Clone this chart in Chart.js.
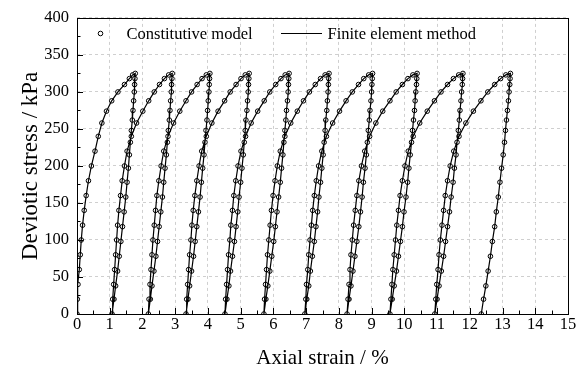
<!DOCTYPE html>
<html>
<head>
<meta charset="utf-8">
<script src="https://cdn.jsdelivr.net/npm/chart.js@4.4.1/dist/chart.umd.min.js"></script>
<style>
  html, body { margin: 0; padding: 0; background: #fff; }
  #chart { display: block; }
</style>
</head>
<body>
<canvas id="chart" width="582" height="373"></canvas>
<script>
// Stress levels (kPa) on each loading branch, from zero up to the peak
const loadStress = [0, 20, 40, 60, 80, 100, 120, 140, 160, 180, 200, 220, 240, 258, 274, 288, 300, 310, 318, 323, 325];
// Stress levels (kPa) on each unloading branch, from the peak down to zero
const unloadStress = [325, 318, 310, 300, 288, 275, 262, 248, 232, 215, 197, 178, 158, 138, 118, 98, 78, 58, 38, 20, 0];

// Axial strain (%) along the loading branch of cycles 1..10
const loadStrain = [
  [0.00, 0.01, 0.03, 0.07, 0.10, 0.13, 0.17, 0.22, 0.28, 0.35, 0.44, 0.55, 0.65, 0.76, 0.90, 1.06, 1.25, 1.45, 1.60, 1.70, 1.78],
  [1.07, 1.09, 1.12, 1.15, 1.18, 1.21, 1.24, 1.28, 1.33, 1.38, 1.45, 1.53, 1.66, 1.82, 2.01, 2.19, 2.36, 2.52, 2.67, 2.80, 2.91],
  [2.18, 2.20, 2.23, 2.26, 2.29, 2.32, 2.36, 2.40, 2.44, 2.50, 2.57, 2.65, 2.78, 2.95, 3.14, 3.33, 3.50, 3.67, 3.82, 3.95, 4.06],
  [3.33, 3.35, 3.38, 3.41, 3.44, 3.48, 3.51, 3.55, 3.60, 3.66, 3.73, 3.81, 3.95, 4.12, 4.31, 4.51, 4.68, 4.86, 5.01, 5.14, 5.26],
  [4.52, 4.54, 4.57, 4.60, 4.63, 4.67, 4.70, 4.75, 4.79, 4.85, 4.92, 5.01, 5.15, 5.32, 5.52, 5.72, 5.89, 6.07, 6.23, 6.36, 6.48],
  [5.71, 5.73, 5.76, 5.79, 5.82, 5.86, 5.90, 5.94, 5.99, 6.05, 6.12, 6.21, 6.35, 6.53, 6.73, 6.92, 7.10, 7.28, 7.44, 7.58, 7.70],
  [6.96, 6.99, 7.01, 7.05, 7.08, 7.12, 7.16, 7.20, 7.25, 7.31, 7.38, 7.48, 7.62, 7.81, 8.02, 8.22, 8.41, 8.60, 8.76, 8.91, 9.03],
  [8.25, 8.28, 8.31, 8.34, 8.37, 8.41, 8.45, 8.50, 8.55, 8.61, 8.69, 8.79, 8.94, 9.13, 9.34, 9.56, 9.75, 9.94, 10.11, 10.26, 10.39],
  [9.56, 9.59, 9.62, 9.65, 9.69, 9.73, 9.77, 9.82, 9.87, 9.94, 10.02, 10.12, 10.27, 10.47, 10.70, 10.92, 11.12, 11.32, 11.50, 11.66, 11.79],
  [10.93, 10.96, 10.99, 11.03, 11.06, 11.10, 11.15, 11.20, 11.25, 11.32, 11.40, 11.51, 11.67, 11.88, 12.11, 12.34, 12.55, 12.76, 12.94, 13.10, 13.24]
];

// Axial strain (%) along the unloading branch of cycles 1..10
const unloadStrain = [
  [1.78, 1.77, 1.76, 1.75, 1.73, 1.71, 1.69, 1.66, 1.63, 1.60, 1.57, 1.53, 1.49, 1.44, 1.39, 1.34, 1.29, 1.24, 1.18, 1.13, 1.07],
  [2.91, 2.90, 2.89, 2.88, 2.86, 2.84, 2.82, 2.79, 2.76, 2.73, 2.69, 2.65, 2.61, 2.56, 2.51, 2.46, 2.41, 2.35, 2.29, 2.24, 2.18],
  [4.06, 4.05, 4.04, 4.03, 4.01, 3.99, 3.97, 3.94, 3.91, 3.88, 3.84, 3.80, 3.76, 3.71, 3.66, 3.61, 3.56, 3.50, 3.44, 3.39, 3.33],
  [5.26, 5.25, 5.24, 5.23, 5.21, 5.19, 5.16, 5.14, 5.11, 5.08, 5.04, 5.00, 4.95, 4.91, 4.86, 4.81, 4.75, 4.69, 4.64, 4.58, 4.52],
  [6.48, 6.47, 6.46, 6.45, 6.43, 6.40, 6.38, 6.35, 6.32, 6.29, 6.25, 6.21, 6.16, 6.11, 6.06, 6.01, 5.95, 5.89, 5.83, 5.77, 5.71],
  [7.70, 7.69, 7.68, 7.67, 7.65, 7.63, 7.60, 7.58, 7.55, 7.52, 7.48, 7.44, 7.39, 7.35, 7.30, 7.25, 7.19, 7.13, 7.08, 7.02, 6.96],
  [9.03, 9.02, 9.01, 9.00, 8.98, 8.95, 8.93, 8.90, 8.87, 8.84, 8.80, 8.75, 8.71, 8.66, 8.61, 8.55, 8.49, 8.43, 8.37, 8.31, 8.25],
  [10.39, 10.38, 10.37, 10.35, 10.33, 10.31, 10.28, 10.25, 10.22, 10.18, 10.14, 10.10, 10.05, 9.99, 9.94, 9.88, 9.82, 9.76, 9.69, 9.63, 9.56],
  [11.79, 11.78, 11.77, 11.75, 11.73, 11.70, 11.68, 11.65, 11.61, 11.58, 11.53, 11.49, 11.43, 11.38, 11.32, 11.26, 11.20, 11.13, 11.06, 11.00, 10.93],
  [13.24, 13.23, 13.22, 13.20, 13.18, 13.15, 13.12, 13.09, 13.06, 13.02, 12.97, 12.92, 12.87, 12.81, 12.76, 12.69, 12.63, 12.56, 12.49, 12.42, 12.35]
];

const xTicks = { min: 0, max: 15, step: 1, minor: 0.5 };
const yTicks = { min: 0, max: 400, step: 50, minor: 25 };

const SERIF = "'Liberation Serif', 'Times New Roman', serif";

// One continuous load/unload path; skip points repeated where branches join
const path = [];
function pushPoint(x, y) {
  const last = path[path.length - 1];
  if (last && last.x === x && last.y === y) return;
  path.push({ x, y });
}
for (let c = 0; c < loadStrain.length; c++) {
  loadStrain[c].forEach((e, i) => pushPoint(e, loadStress[i]));
  unloadStrain[c].forEach((e, i) => pushPoint(e, unloadStress[i]));
}

// Frame, inward tick marks and the in-plot legend
const frameAndLegend = {
  id: 'frameAndLegend',
  afterDraw(chart) {
    const { ctx, chartArea: a, scales: { x, y } } = chart;
    ctx.save();
    ctx.strokeStyle = '#000';
    ctx.lineWidth = 1;

    ctx.beginPath();
    for (let v = xTicks.min + xTicks.minor; v < xTicks.max; v += xTicks.minor) {
      const px = Math.round(x.getPixelForValue(v)) + 0.5;
      const len = Math.abs(v % xTicks.step) < 1e-6 ? 6 : 3.5;
      ctx.moveTo(px, a.bottom);
      ctx.lineTo(px, a.bottom - len);
    }
    for (let v = yTicks.min + yTicks.minor; v < yTicks.max; v += yTicks.minor) {
      const py = Math.round(y.getPixelForValue(v)) + 0.5;
      const len = v % yTicks.step === 0 ? 6 : 3.5;
      ctx.moveTo(a.left, py);
      ctx.lineTo(a.left + len, py);
    }
    ctx.stroke();

    ctx.strokeRect(Math.round(a.left) + 0.5, Math.round(a.top) + 0.5,
      Math.round(a.right - a.left), Math.round(a.bottom - a.top));

    // legend
    ctx.font = '16.5px ' + SERIF;
    ctx.textBaseline = 'middle';
    ctx.lineWidth = 1;
    ctx.beginPath();
    ctx.arc(100.5, 33.5, 2.3, 0, Math.PI * 2);
    ctx.fillStyle = '#fff';
    ctx.fill();
    ctx.stroke();
    ctx.fillStyle = '#000';
    ctx.fillText('Constitutive model', 126.5, 34.5);

    ctx.lineWidth = 1.2;
    ctx.beginPath();
    ctx.moveTo(281, 33.5);
    ctx.lineTo(322, 33.5);
    ctx.stroke();
    ctx.fillText('Finite element method', 327.5, 34.5);
    ctx.restore();
  }
};

const gridStyle = { color: '#cfcfcf', lineWidth: 1, drawTicks: false };

new Chart(document.getElementById('chart'), {
  type: 'scatter',
  data: {
    datasets: [
      {
        label: 'Finite element method',
        data: path,
        showLine: true,
        borderColor: '#000',
        borderWidth: 1.2,
        pointRadius: 0,
        tension: 0,
        order: 0
      },
      {
        label: 'Constitutive model',
        data: path,
        showLine: false,
        pointRadius: 2.3,
        pointBorderWidth: 1,
        pointBorderColor: '#000',
        pointBackgroundColor: '#fff',
        order: 1
      }
    ]
  },
  options: {
    responsive: false,
    devicePixelRatio: 1,
    animation: false,
    layout: { padding: { top: 13, right: 14, left: 0, bottom: 0 } },
    plugins: { legend: { display: false }, tooltip: { enabled: false } },
    scales: {
      x: {
        type: 'linear',
        min: xTicks.min,
        max: xTicks.max,
        afterFit: scale => { scale.height = 59; },
        ticks: { stepSize: xTicks.step, color: '#000', padding: 1, font: { family: SERIF, size: 16.5 } },
        grid: gridStyle,
        border: { display: false, dash: [3, 3] },
        title: {
          display: true,
          text: 'Axial strain / %',
          color: '#000',
          font: { family: SERIF, size: 21, lineHeight: 1 },
          padding: { top: 0, bottom: 4 }
        }
      },
      y: {
        type: 'linear',
        min: yTicks.min,
        max: yTicks.max,
        afterFit: scale => { scale.width = 77; },
        ticks: { stepSize: yTicks.step, color: '#000', padding: 8, font: { family: SERIF, size: 16.5 } },
        grid: gridStyle,
        border: { display: false, dash: [3, 3] },
        title: {
          display: true,
          text: 'Deviotic stress / kPa',
          color: '#000',
          font: { family: SERIF, size: 23, lineHeight: 1 },
          padding: { top: 19, bottom: 0 }
        }
      }
    }
  },
  plugins: [frameAndLegend]
});
</script>
</body>
</html>
